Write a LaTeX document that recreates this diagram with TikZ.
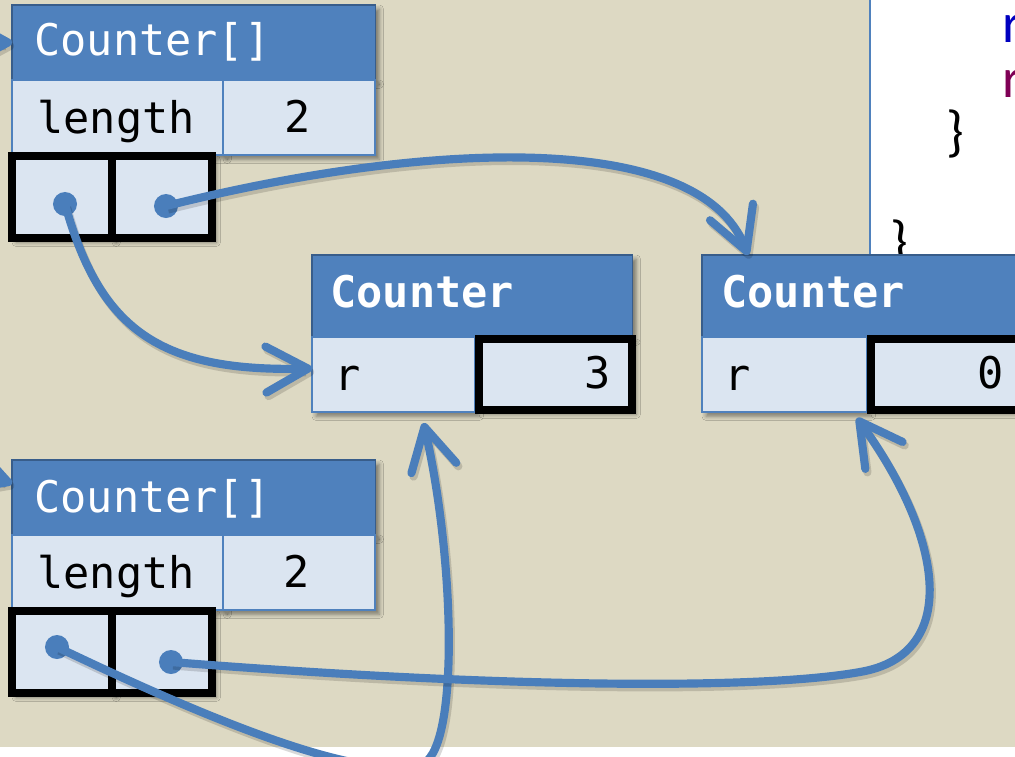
\documentclass[tikz,border=0pt]{standalone}
\usepackage{fontspec}
\setmonofont{DejaVu Sans Mono}
\setsansfont{Carlito}
\usepackage{tikz}
\usetikzlibrary{positioning,arrows.meta,shadows.blur}

\definecolor{hdrblue}{RGB}{79,129,189}
\definecolor{hdrline}{RGB}{56,93,138}
\definecolor{cellfill}{RGB}{219,229,241}
\definecolor{slide}{RGB}{221,217,195}
\definecolor{refblue}{RGB}{74,126,187}
\definecolor{fieldblue}{RGB}{0,0,192}
\definecolor{kwmaroon}{RGB}{127,0,85}

\tikzset{
  boxshadow/.style={blur shadow={shadow xshift=3pt, shadow yshift=-3pt,
                    shadow blur radius=3pt, shadow opacity=45}},
  hdr/.style={rectangle, anchor=north west, outer sep=0pt, inner sep=0pt,
              fill=hdrblue, draw=hdrline, line width=0.8pt, boxshadow},
  cell/.style={rectangle, anchor=north west, outer sep=0pt, inner sep=0pt,
               fill=cellfill, draw=hdrblue, line width=1.2pt,
               minimum height=1.875cm, boxshadow},
  slot/.style={rectangle, anchor=north west, outer sep=0pt, inner sep=0pt,
               fill=cellfill, draw=black, line width=0.2cm,
               minimum width=2.5cm, minimum height=2.05cm, boxshadow},
  mono/.style={font=\ttfamily\fontsize{31}{36}\selectfont, inner sep=0pt},
  monob/.style={font=\ttfamily\bfseries\fontsize{31}{36}\selectfont, inner sep=0pt, text=white},
  code/.style={font=\sffamily\fontsize{40}{48}\selectfont, inner sep=0pt, anchor=base west},
  dot/.style={circle, fill=refblue, minimum size=0.6cm, inner sep=0pt},
  ref/.style={draw=refblue, line width=5.8pt, line cap=round,
              -{Straight Barb[length=1.05cm, width=1.15cm, round]},
              preaction={draw=black, opacity=0.15, line width=5.8pt,
                         transform canvas={shift={(1.5pt,-2.5pt)}}}},
}

\begin{document}
\begin{tikzpicture}[x=0.025cm, y=-0.025cm]
  \useasboundingbox (0,0) rectangle (1015,757);
  \clip (0,0) rectangle (1015,757);

  % slide and code panel
  \fill[white] (0,0) rectangle (1015,757);
  \fill[slide] (0,0) rectangle (1015,747);
  \fill[white] (870,-5) rectangle (1020,256);
  \draw[hdrblue, line width=2pt] (870,-5) -- (870,256);
  \node[code, text=fieldblue] (fld) at (1002,42) {r};
  \node[code, text=kwmaroon] (kw) at (1002,97) {r};
  \node[code] (brace1) at (946,150) {\}};
  \node[code] (brace2) at (890,260) {\}};

  % first array
  \node[hdr, minimum width=9.075cm, minimum height=1.875cm] (arrA) at (12,5) {};
  \node[cell, minimum width=5.275cm] (lenA) at (12,80) {};
  \node[cell, minimum width=3.8cm, right=0pt of lenA] (lenvalA) {};
  \node[slot] (slotA1) at (12,156) {};
  \node[slot, right=0pt of slotA1] (slotA2) {};
  \node[mono, text=white, anchor=base west] (arrAtxt) at (34,55) {Counter[]};
  \node[mono, anchor=base west] (lenAtxt) at (37,133) {length};
  \node[mono, anchor=base] (lenvalAtxt) at (298,132) {2};

  % second array
  \node[hdr, minimum width=9.075cm, minimum height=1.875cm] (arrB) at (12,460) {};
  \node[cell, minimum width=5.275cm] (lenB) at (12,535) {};
  \node[cell, minimum width=3.8cm, right=0pt of lenB] (lenvalB) {};
  \node[slot] (slotB1) at (12,611) {};
  \node[slot, right=0pt of slotB1] (slotB2) {};
  \node[mono, text=white, anchor=base west] (arrBtxt) at (34,512) {Counter[]};
  \node[mono, anchor=base west] (lenBtxt) at (37,588) {length};
  \node[mono, anchor=base] (lenvalBtxt) at (297,587) {2};

  % the two counters
  \node[hdr, minimum width=8cm, minimum height=2.05cm] (ctrA) at (312,255) {};
  \node[cell, minimum width=4.075cm] (rA) at (312,337) {};
  \node[slot, minimum width=3.825cm, minimum height=1.775cm] (valA) at (479,339) {};
  \node[monob, anchor=base west] (ctrAtxt) at (330,307) {Counter};
  \node[mono, anchor=base west] (rAtxt) at (334,390) {r};
  \node[mono, anchor=base east] (valAtxt) at (611,388) {3};

  \node[hdr, minimum width=8.5cm, minimum height=2.05cm] (ctrB) at (702,255) {};
  \node[cell, minimum width=4.125cm] (rB) at (702,337) {};
  \node[slot, minimum width=3.825cm, minimum height=1.775cm] (valB) at (871,339) {};
  \node[monob, anchor=base west] (ctrBtxt) at (721,307) {Counter};
  \node[mono, anchor=base west] (rBtxt) at (724,390) {r};
  \node[mono, anchor=base west] (valBtxt) at (977,388) {0};

  % references held in the slots
  \node[dot] (dA1) at (65,204) {};
  \node[dot] (dA2) at (166,206) {};
  \node[dot] (dB1) at (57,647) {};
  \node[dot] (dB2) at (171,662) {};

  \coordinate (inA) at (-70,42);
  \coordinate (inB) at (-70,455);
  \draw[ref] (inA) -- (arrA.west);
  \draw[ref] (inB) -- ([yshift=0.35cm]arrB.west);

  \draw[ref] (dA2.center) .. controls (430,140) and (700,130) .. ([xshift=1.15cm]ctrB.north west);
  \draw[ref] (dA1.center) .. controls (100,330) and (160,372) .. ([yshift=0.15cm]rA.west);
  \draw[ref] (dB1.center) .. controls (220,725) and (360,780) .. (420,765)
                          .. controls (460,755) and (455,560) .. ([shift={(0.75cm,-0.275cm)}]rA.south);
  \draw[ref] (dB2.center) .. controls (500,688) and (760,690) .. (860,672)
                          .. controls (960,655) and (945,540) .. ([shift={(-0.35cm,-0.2cm)}]valB.south west);
\end{tikzpicture}
\end{document}
